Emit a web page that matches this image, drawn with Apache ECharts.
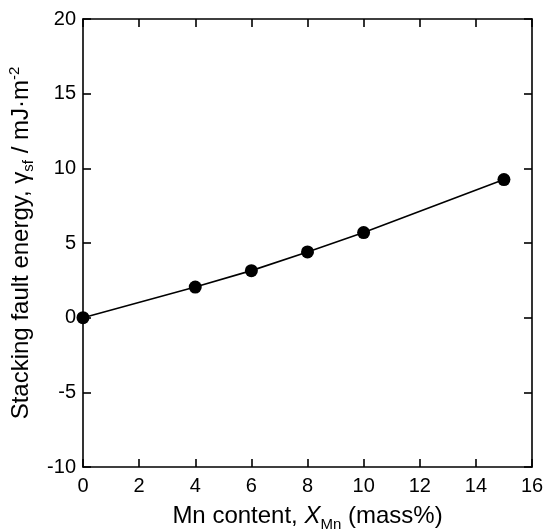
<!DOCTYPE html>
<html>
<head>
<meta charset="utf-8">
<script src="https://cdn.jsdelivr.net/npm/echarts@6/dist/echarts.min.js"></script>
<style>
html,body{margin:0;padding:0;background:#fff;}
#chart{width:546px;height:529px;}
</style>
</head>
<body>
<div id="chart"></div>
<script>
// Data
const mnContent = [0, 4, 6, 8, 10, 15];
const sfeValues = [0, 2.05, 3.15, 4.4, 5.7, 9.25];
const xTicks = [0, 2, 4, 6, 8, 10, 12, 14, 16];
const yTicks = [-10, -5, 0, 5, 10, 15, 20];

const FONT = '"Liberation Sans", Arial, sans-serif';
const points = mnContent.map((x, i) => [x, sfeValues[i]]);

const chart = echarts.init(document.getElementById('chart'), null, {renderer: 'canvas'});

const axisLine = {show: true, onZero: false, lineStyle: {color: '#000', width: 1.6}};
const axisTick = {show: true, inside: true, length: 8, lineStyle: {color: '#000', width: 1.6}};
const baseX = {type: 'value', min: 0, max: 16, interval: 2, splitLine: {show: false}, axisLine: axisLine, axisTick: axisTick};
const baseY = {type: 'value', min: -10, max: 20, interval: 5, splitLine: {show: false}, axisLine: axisLine, axisTick: axisTick};

const option = {
  backgroundColor: '#fff',
  animation: false,
  grid: {left: 83, right: 14, top: 19, bottom: 62, containLabel: false, outerBoundsMode: 'none'},
  xAxis: [
    Object.assign({}, baseX, {
      position: 'bottom',
      axisLabel: {color: '#000', fontSize: 20, fontFamily: FONT, margin: 9},
      name: '{m|Mn content, }{i|X}{s|Mn}{m| (mass%)}',
      nameLocation: 'middle',
      nameGap: 37,
      nameTextStyle: {
        color: '#000', fontFamily: FONT, fontSize: 24,
        rich: {
          m: {fontSize: 24, fontFamily: FONT, color: '#000', verticalAlign: 'top', lineHeight: 24},
          i: {fontSize: 24, fontFamily: FONT, color: '#000', fontStyle: 'italic', verticalAlign: 'top', lineHeight: 24},
          s: {fontSize: 15, fontFamily: FONT, color: '#000', verticalAlign: 'top', lineHeight: 15, padding: [13, 0, 0, 0]}
        }
      }
    }),
    Object.assign({}, baseX, {position: 'top', axisLabel: {show: false}})
  ],
  yAxis: [
    Object.assign({}, baseY, {
      position: 'left',
      axisLabel: {color: '#000', fontSize: 20, fontFamily: FONT, margin: 7},
      name: '{m|Stacking fault energy, γ}{s|sf}{m| / mJ·m}{p|-2}',
      nameLocation: 'middle',
      nameGap: 47,
      nameRotate: 90,
      nameTextStyle: {
        color: '#000', fontFamily: FONT, fontSize: 24,
        rich: {
          m: {fontSize: 24, fontFamily: FONT, color: '#000', verticalAlign: 'top', lineHeight: 24},
          s: {fontSize: 15, fontFamily: FONT, color: '#000', verticalAlign: 'top', lineHeight: 15, padding: [12, 0, 0, 0]},
          p: {fontSize: 15, fontFamily: FONT, color: '#000', verticalAlign: 'top', lineHeight: 15, padding: [-2, 0, 0, 0]}
        }
      }
    }),
    Object.assign({}, baseY, {position: 'right', axisLabel: {show: false}})
  ],
  series: [{
    type: 'line',
    data: points,
    symbol: 'circle',
    symbolSize: 13,
    itemStyle: {color: '#000'},
    lineStyle: {color: '#000', width: 1.6},
    clip: false
  }]
};
chart.setOption(option);
</script>
</body>
</html>
